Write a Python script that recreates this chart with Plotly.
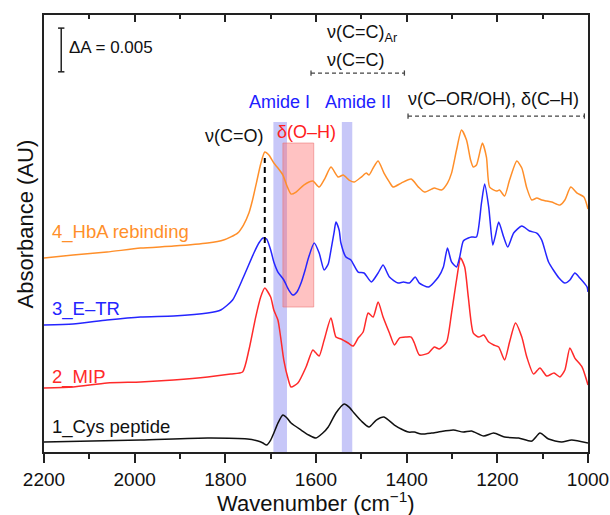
import plotly.graph_objects as go

# ---------------- data (wavenumber in cm-1, absorbance in mAU, relative to own baseline) -------------
wn_cys = [2200, 1987, 1839, 1751, 1728, 1717, 1709, 1700, 1693, 1684, 1673, 1664, 1655, 1633, 1616,
          1600, 1585, 1573, 1556, 1538, 1527, 1516, 1500, 1483, 1467, 1450, 1427, 1412, 1396, 1383,
          1368, 1345, 1330, 1297, 1275, 1257, 1230, 1208, 1184, 1153, 1124, 1106, 1087, 1058, 1036, 1000]
abs_cys = [0, 0.23, 0.46, 0.34, 0.11, -0.11, -0.34, 0.23, 1.03, 2.17, 3.09, 2.75, 2.17, 1.37, 0.80,
           0.46, 1.03, 1.72, 3.32, 4.35, 4.00, 3.32, 2.40, 1.72, 2.52, 2.86, 1.94, 1.49, 1.14, 1.14,
           0.92, 1.03, 1.14, 1.37, 1.14, 1.26, 0.69, 1.03, 0.57, 0.46, 0.11, 1.03, 0.34, 0, 0.23, -0.11]

wn_mip = [2200, 2136, 2061, 1987, 1914, 1839, 1788, 1762, 1748, 1733, 1722, 1713, 1700, 1693, 1684,
          1678, 1671, 1662, 1655, 1640, 1622, 1607, 1600, 1593, 1582, 1567, 1556, 1545, 1529, 1518,
          1507, 1496, 1485, 1474, 1463, 1452, 1438, 1427, 1416, 1401, 1390, 1383, 1372, 1352, 1339,
          1328, 1312, 1301, 1290, 1281, 1272, 1264, 1253, 1241, 1230, 1219, 1208, 1197, 1184, 1173,
          1160, 1146, 1135, 1120, 1106, 1091, 1075, 1062, 1051, 1040, 1029, 1013, 1000]
abs_mip = [0, 0.11, 0.57, 0.69, 0.92, 1.26, 1.60, 1.83, 4.35, 8.12, 10.41, 11.44, 10.41, 8.92, 7.78,
           5.83, 3.20, 1.14, 0.11, 0.57, 2.40, 4.35, 4.00, 3.66, 5.49, 8.01, 5.83, 5.61, 5.15, 4.80,
           5.72, 6.41, 8.58, 8.12, 9.84, 8.12, 6.29, 4.92, 5.72, 5.83, 5.83, 5.15, 3.78, 4.00, 4.69,
           4.46, 5.26, 8.58, 12.36, 14.87, 13.84, 10.41, 6.29, 5.83, 6.06, 5.26, 4.92, 4.69, 3.20, 5.26,
           7.44, 5.83, 3.55, 1.60, 2.29, 1.37, 1.72, 1.26, 2.06, 4.58, 3.43, 2.40, 0.34]

wn_etr = [2200, 2136, 2061, 1987, 1914, 1839, 1810, 1784, 1760, 1737, 1726, 1717, 1709, 1700, 1693,
          1684, 1671, 1660, 1651, 1642, 1633, 1624, 1618, 1604, 1593, 1582, 1573, 1567, 1560, 1556,
          1549, 1545, 1534, 1523, 1507, 1494, 1478, 1463, 1452, 1438, 1419, 1407, 1394, 1381, 1372,
          1352, 1330, 1319, 1310, 1301, 1290, 1283, 1275, 1264, 1257, 1246, 1235, 1228, 1219, 1210,
          1204, 1197, 1186, 1177, 1164, 1146, 1129, 1113, 1102, 1087, 1064, 1051, 1040, 1029, 1018,
          1002, 1000]
abs_etr = [0, 0.11, 0.57, 0.92, 1.03, 1.37, 1.72, 2.86, 5.49, 8.24, 9.38, 9.95, 9.84, 8.58, 7.21,
           6.06, 5.15, 4.00, 3.43, 3.78, 4.80, 6.29, 7.44, 9.38, 8.24, 6.29, 6.98, 8.58, 10.64, 11.78,
           10.87, 9.38, 7.78, 7.44, 6.06, 5.95, 4.92, 5.95, 6.86, 5.49, 4.80, 4.92, 4.80, 5.49, 4.80,
           4.35, 5.49, 6.64, 8.81, 7.21, 6.64, 7.78, 9.61, 9.95, 10.07, 10.07, 13.96, 16.13, 13.50, 9.15,
           10.30, 11.78, 10.07, 8.92, 10.52, 11.33, 10.75, 10.52, 9.72, 7.21, 5.38, 4.80, 5.15, 5.95, 5.38,
           4.35, 3.78]

wn_hba = [2200, 2136, 2061, 1987, 1914, 1839, 1804, 1773, 1760, 1748, 1740, 1731, 1722, 1713, 1704,
          1693, 1684, 1673, 1664, 1655, 1644, 1627, 1607, 1593, 1580, 1567, 1551, 1540, 1527, 1516,
          1500, 1489, 1483, 1474, 1463, 1450, 1438, 1430, 1412, 1390, 1374, 1361, 1345, 1339, 1323,
          1310, 1301, 1290, 1279, 1268, 1259, 1253, 1246, 1233, 1224, 1217, 1202, 1195, 1184, 1173,
          1157, 1146, 1135, 1124, 1113, 1102, 1091, 1080, 1062, 1051, 1038, 1024, 1009, 1000]
abs_hba = [0, 0.34, 0.69, 1.14, 1.37, 1.72, 2.06, 2.86, 3.78, 5.15, 6.64, 8.69, 10.76, 12.13, 11.78,
           10.87, 10.30, 9.50, 8.24, 7.32, 7.55, 8.35, 8.81, 8.12, 9.15, 10.41, 9.27, 9.50, 8.92, 8.69,
           9.27, 9.72, 9.50, 10.30, 11.10, 9.72, 8.69, 8.12, 8.58, 9.04, 8.12, 7.55, 7.89, 8.01, 7.78,
           8.58, 9.72, 12.36, 14.64, 13.50, 11.21, 10.41, 10.64, 13.16, 11.55, 8.12, 7.66, 7.78, 7.09, 8.92,
           11.10, 10.30, 8.01, 6.64, 6.86, 6.64, 6.52, 6.41, 6.06, 6.64, 8.12, 7.43, 6.98, 5.61]

series_names = ["1_Cys peptide", "2_MIP", "3_E\u2013TR", "4_HbA rebinding"]
series_wn = [wn_cys, wn_mip, wn_etr, wn_hba]
series_abs = [abs_cys, abs_mip, abs_etr, abs_hba]
offsets = [1.14, 7.32, 14.53, 22.19]          # stacking offsets, mAU
colors = ["#111111", "#FF2A2A", "#2525FF", "#FF8F2A"]

# band assignments (cm-1)
amide_I = (1694, 1664)
amide_II = (1543, 1520)
oh_band = (1673, 1605)
co_line = 1713
cc_range = (1611, 1405)
cor_range = (1397, 1008)
scale_bar = 5.0  # mAU  (Delta A = 0.005)

FONT = "Liberation Sans, Arial, sans-serif"

fig = go.Figure()
for name, wn, ab, off, col in zip(series_names, series_wn, series_abs, offsets, colors):
    fig.add_trace(go.Scatter(x=wn, y=[v + off for v in ab], mode="lines", name=name,
                             line=dict(color=col, width=1.5, shape="spline", smoothing=0.6),
                             hoverinfo="skip"))
# dummy trace for top axis
fig.add_trace(go.Scatter(x=[2200, 1000], y=[None, None], xaxis="x2", mode="lines",
                         showlegend=False, hoverinfo="skip"))

shapes = []
band_top = 37.75
for b in (amide_I, amide_II):
    shapes.append(dict(type="rect", xref="x", yref="y", x0=b[0], x1=b[1], y0=0, y1=band_top,
                       fillcolor="rgba(95,95,235,0.35)", line=dict(width=0), layer="below"))
shapes.append(dict(type="rect", xref="x", yref="y", x0=oh_band[0], x1=oh_band[1], y0=16.59, y1=35.35,
                   fillcolor="rgba(255,95,95,0.38)", line=dict(width=1, color="rgba(235,120,120,0.6)"),
                   layer="below"))
shapes.append(dict(type="line", xref="x", yref="y", x0=co_line, x1=co_line, y0=19.33, y1=33.63,
                   line=dict(color="black", width=2, dash="6px,4px")))
for (a, b), yv in ((cc_range, 43.36), (cor_range, 38.44)):
    shapes.append(dict(type="line", xref="x", yref="y", x0=a, x1=b, y0=yv, y1=yv,
                       line=dict(color="#444444", width=1.3, dash="4px,3px")))
    for xe in (a, b):
        shapes.append(dict(type="line", xref="x", yref="y", x0=xe, x1=xe, y0=yv - 0.3, y1=yv + 0.3,
                           line=dict(color="#444444", width=1.3)))
# scale bar
sb_x, sb_y0 = 2162, 43.5
shapes.append(dict(type="line", xref="x", yref="y", x0=sb_x, x1=sb_x, y0=sb_y0, y1=sb_y0 + scale_bar,
                   line=dict(color="#222", width=1.5)))
for yy in (sb_y0, sb_y0 + scale_bar):
    shapes.append(dict(type="line", xref="x", yref="y", x0=sb_x - 7, x1=sb_x + 7, y0=yy, y1=yy,
                       line=dict(color="#222", width=1.5)))

ann = []
def txt(x, y, s, color="#111", size=18, xanchor="center"):
    ann.append(dict(x=x, y=y, xref="x", yref="y", text=s, showarrow=False, xanchor=xanchor,
                    yanchor="middle", font=dict(family=FONT, size=size, color=color)))

txt(2149, 46.33, "\u0394A = 0.005", xanchor="left", size=17)
label_y = [2.86, 8.58, 16.36, 25.17]
for name, yv, col in zip(series_names, label_y, colors):
    txt(2187, yv, name, color=col, xanchor="left", size=18.5)
txt(1779, 36.15, "\u03bd(C=O)")
txt(1681, 40.04, "Amide I", color="#2020FF")
txt(1507, 40.04, "Amide II", color="#2020FF")
txt(1622, 36.61, "\u03b4(O\u2013H)", color="#FF2020")
txt(1498, 47.93, "\u03bd(C=C)<sub>Ar</sub>")
txt(1512, 44.84, "\u03bd(C=C)")
txt(1209, 40.38, "\u03bd(C\u2013OR/OH), \u03b4(C\u2013H)")

# axis titles
ann.append(dict(x=0.5, y=-0.114, xref="paper", yref="paper", text="Wavenumber (cm<sup>\u22121</sup>)",
                showarrow=False, xanchor="center", yanchor="middle",
                font=dict(family=FONT, size=22, color="#111")))
ann.append(dict(x=-0.035, y=0.523, xref="paper", yref="paper", text="Absorbance (AU)", textangle=-90,
                showarrow=False, xanchor="center", yanchor="middle",
                font=dict(family=FONT, size=22, color="#111")))

fig.update_layout(
    width=610, height=515, margin=dict(l=44, r=22, t=15, b=63, autoexpand=False),
    paper_bgcolor="white", plot_bgcolor="white", showlegend=False,
    shapes=shapes, annotations=ann,
    xaxis=dict(range=[2200, 1000], tick0=0, dtick=200, ticks="outside", ticklen=9, tickwidth=1.5,
               tickcolor="#222", showline=True, linecolor="#222", linewidth=1.5, mirror=True,
               showgrid=False, zeroline=False, automargin=False,
               tickfont=dict(family=FONT, size=19, color="#111"),
               minor=dict(dtick=100, ticks="outside", ticklen=5, tickwidth=1.5, tickcolor="#222")),
    xaxis2=dict(range=[2200, 1000], overlaying="x", side="top", tick0=0, dtick=200, ticks="inside",
                ticklen=7, tickwidth=1.5, tickcolor="#222", showticklabels=False, showline=False,
                showgrid=False, zeroline=False, automargin=False,
                minor=dict(dtick=100, ticks="inside", ticklen=4, tickwidth=1.5, tickcolor="#222")),
    yaxis=dict(range=[0, 50], showticklabels=False, ticks="", showline=True, linecolor="#222",
               linewidth=1.5, mirror=True, showgrid=False, zeroline=False, automargin=False),
)

# remove the default 8px page margin so the 610x515 figure fills the window exactly
fig.write_html("out.html", config={"displayModeBar": False},
               post_script="document.body.style.margin='0';document.body.style.overflow='hidden';")
